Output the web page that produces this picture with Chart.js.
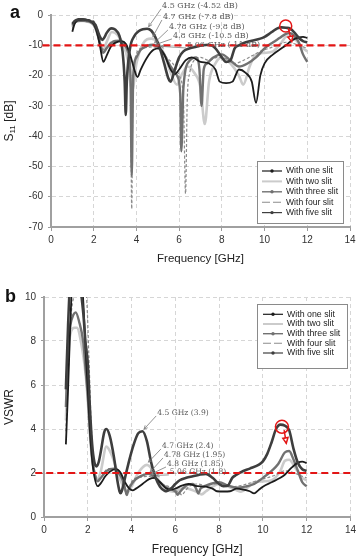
<!DOCTYPE html>
<html><head><meta charset="utf-8">
<script src="https://cdn.jsdelivr.net/npm/chart.js@4.4.1/dist/chart.umd.min.js"></script>
<style>
html,body{margin:0;padding:0;background:#fff;width:359px;height:558px;overflow:hidden}
.box{position:absolute;left:0;width:359px;height:279px}
#wa{top:0}#wb{top:279px}
canvas{display:block}
</style></head><body>
<div class="box" id="wa"><canvas id="ca" width="359" height="279"></canvas></div>
<div class="box" id="wb"><canvas id="cb" width="359" height="279"></canvas></div>
<script>
// ---------------- DATA ----------------
const seriesNames = ['With one slit','With two slit','With three slit','With four slit','With five slit'];
const xTicks = [0,2,4,6,8,10,12,14];
const s11Ticks = [0,-10,-20,-30,-40,-50,-60,-70];
const vswrTicks = [0,2,4,6,8,10];
const thresholdS11 = -10;
const thresholdVswr = 2;

const freqOne = [1.0,1.1,1.2,1.3,1.5,1.7,1.8,1.9,2.0,2.1,2.2,2.3,2.45,2.6,2.8,3.0,3.3,3.5,3.7,3.9,4.05,4.2,4.5,4.8,5.06,5.3,5.6,5.8,6.0,6.3,6.6,7.0,7.4,7.7,7.9,8.2,8.5,8.8,9.1,9.4,9.6,9.8,10.0,10.4,10.8,11.0,11.3,11.6,11.8,12.0];
const s11One = [-5.5,-3.0,-2.0,-1.6,-1.5,-1.6,-1.8,-2.3,-3.0,-4.5,-7.0,-10.5,-15.5,-13.5,-10.5,-9.2,-8.6,-9.5,-13,-18,-20.5,-18,-14,-11.5,-11,-13,-18,-19.5,-18,-15,-14,-15.5,-16,-18,-22,-22.5,-22,-18,-19,-22,-29,-20,-16,-13,-11,-10,-8.3,-7.4,-7.2,-7.6];
const vswrOne = [3.3,5.8,8.7,10.9,11.6,10.9,9.7,7.6,5.8,3.9,2.6,1.85,1.4,1.54,1.85,2.06,2.18,2.01,1.58,1.29,1.21,1.29,1.5,1.72,1.78,1.58,1.29,1.24,1.29,1.43,1.5,1.4,1.38,1.29,1.17,1.16,1.17,1.29,1.25,1.17,1.07,1.22,1.38,1.58,1.78,1.92,2.23,2.47,2.52,2.45];

const freqTwo = [1.0,1.1,1.2,1.4,1.5,1.7,1.9,2.0,2.1,2.2,2.3,2.45,2.6,2.85,3.1,3.4,3.6,3.8,4.0,4.3,4.7,5.0,5.3,5.6,5.9,6.1,6.4,6.7,7.0,7.2,7.4,7.7,8.0,8.4,8.8,9.0,9.3,9.6,10.0,10.4,10.8,11.0,11.2,11.5,11.8,12.0];
const s11Two = [-4.0,-2.5,-2.1,-2.0,-2.0,-2.2,-2.7,-3.3,-4.8,-7.0,-9.5,-11.5,-9,-5.6,-6.5,-10,-15,-25,-16,-9.5,-7.8,-9,-13,-19,-23,-20,-17,-19,-24,-36,-22,-16,-14,-16,-20,-23,-17,-13,-12.5,-12,-9,-7.2,-7,-8.5,-11,-12];
const vswrTwo = [4.4,7.0,8.3,8.6,8.6,7.9,6.5,5.3,3.7,2.6,2.0,1.72,2.1,3.2,2.8,1.92,1.43,1.12,1.38,2.0,2.37,2.1,1.58,1.25,1.15,1.22,1.33,1.25,1.13,1.03,1.17,1.38,1.5,1.38,1.22,1.15,1.33,1.58,1.62,1.67,2.1,2.55,2.6,2.2,1.78,1.67];

const freqThree = [1.0,1.1,1.2,1.35,1.45,1.6,1.8,1.9,2.0,2.1,2.2,2.3,2.45,2.6,2.8,3.0,3.2,3.4,3.6,3.72,3.78,3.85,4.0,4.2,4.5,4.78,5.0,5.3,5.6,5.9,6.05,6.1,6.2,6.5,6.8,6.95,7.05,7.15,7.3,7.6,8.0,8.4,8.8,9.2,9.6,10.0,10.4,10.7,11.0,11.2,11.4,11.6,11.8,12.0];
const s11Three = [-3.5,-2.3,-2.0,-1.9,-1.88,-1.95,-2.2,-2.6,-3.2,-4.6,-6.8,-9.5,-12.5,-11,-9.3,-8.6,-8.5,-9.5,-12,-20,-53,-20,-14,-11.5,-10.2,-9.8,-10.5,-13,-17,-20,-26,-45,-24,-15,-14,-18,-30,-18,-16,-14,-13,-15,-17,-16,-14,-11,-9,-7.6,-6.2,-6.0,-7,-9,-13,-15.5];
const vswrThree = [5.0,7.6,8.7,9.2,9.3,8.9,7.9,6.7,5.5,3.9,2.7,2.03,1.62,1.78,2.04,2.18,2.2,2.01,1.67,1.22,1.0,1.22,1.5,1.72,1.89,1.96,1.85,1.58,1.33,1.22,1.1,1.01,1.13,1.43,1.5,1.29,1.07,1.29,1.38,1.5,1.58,1.43,1.33,1.38,1.5,1.78,2.1,2.41,2.93,3.0,2.61,2.1,1.58,1.4];

const freqFour = [1.0,1.1,1.2,1.4,1.6,1.8,1.95,2.05,2.15,2.25,2.35,2.5,2.65,2.8,3.0,3.3,3.5,3.65,3.72,3.78,3.84,3.95,4.1,4.4,4.8,5.1,5.4,5.7,6.0,6.2,6.3,6.38,6.5,6.7,7.0,7.4,7.8,8.2,8.6,9.0,9.4,9.8,10.2,10.6,11.0,11.4,11.8,12.0];
const s11Four = [-4.5,-2.8,-2.0,-1.7,-1.6,-1.65,-1.75,-2.4,-4,-7,-10,-11.5,-10.5,-9,-8.5,-8.8,-9.5,-13,-22,-64,-22,-14,-11.5,-10.8,-10.5,-11.5,-14,-16,-20,-28,-59,-28,-19,-15,-14,-15,-14,-14.5,-16,-15,-13.5,-12,-11,-10,-9,-9.5,-10.5,-11];
const vswrFour = [3.9,6.3,8.7,10.2,10.9,10.5,9.9,7.3,4.4,2.6,1.92,1.72,1.85,2.1,2.2,2.14,2.01,1.58,1.17,1.0,1.17,1.5,1.72,1.81,1.85,1.72,1.5,1.38,1.22,1.08,1.0,1.08,1.25,1.43,1.5,1.43,1.5,1.47,1.38,1.43,1.54,1.67,1.78,1.92,2.1,2.01,1.85,1.78];

const freqFive = [1.0,1.1,1.2,1.3,1.5,1.6,1.7,1.8,1.9,2.0,2.1,2.2,2.3,2.4,2.5,2.6,2.75,2.85,3.0,3.2,3.35,3.45,3.5,3.55,3.7,3.9,4.1,4.3,4.5,4.7,4.9,5.1,5.3,5.5,5.6,5.8,6.0,6.2,6.5,6.8,7.1,7.4,7.7,8.0,8.2,8.4,8.6,8.8,9.0,9.4,9.8,10.0,10.2,10.4,10.6,10.8,11.0,11.2,11.4,11.6,11.8,12.0];
const s11Five = [-3.0,-2.0,-1.6,-1.45,-1.4,-1.5,-1.7,-1.9,-2.2,-2.5,-3.6,-5.5,-7.3,-8.2,-7.4,-6.0,-4.6,-4.4,-4.8,-6.8,-12,-22,-33,-22,-11,-7.0,-5.4,-4.7,-4.52,-5.2,-7.5,-11,-16,-21,-22,-18,-14,-12,-11,-10.5,-10,-9.8,-11,-14,-15.5,-15,-11,-10,-9.3,-8.5,-7.8,-7.2,-6.3,-5.3,-4.4,-4.1,-4.2,-4.5,-5.8,-7.5,-8.6,-9.0];
const vswrFive = [5.8,8.7,10.9,12.0,12.4,11.6,10.2,9.2,7.9,7.0,4.9,3.3,2.5,2.3,2.5,3.0,3.85,4.0,3.7,2.7,1.67,1.17,1.08,1.17,1.78,2.6,3.3,3.8,3.9,3.45,2.46,1.78,1.38,1.2,1.17,1.29,1.5,1.67,1.78,1.85,1.92,1.96,1.78,1.5,1.4,1.43,1.78,1.92,2.04,2.2,2.37,2.53,2.87,3.4,4.0,4.2,4.15,3.95,3.1,2.46,2.17,2.1];

// annotated resonances
const annoFreq = [4.5, 4.7, 4.78, 4.8, 5.06];
const annoS11 = [-4.52, -7.8, -9.8, -10.5, -11];
const annoVswr = [3.9, 2.4, 1.95, 1.85, 1.8];
// highlighted point (red circle)
const markS11 = {f: 10.99, v: -3.63};
const markVswr = {f: 10.87, v: 4.1};

// ---------------- STYLE ----------------
const styles = [
  {color:'#1c1c1c', width:1.8, dash:[], marker:true, order:2, lw:1.2},
  {color:'#cbcbcb', width:2.6, dash:[], marker:false, order:5, lw:2},
  {color:'#717171', width:2.4, dash:[], marker:true, order:3, lw:1.4},
  {color:'#8c8c8c', width:1.2, dash:[3,2], marker:false, order:4, lw:1.1, ldash:[8,3]},
  {color:'#3e3e3e', width:2.6, dash:[], marker:true, order:1, lw:1.2},
];
const freqs = [freqOne, freqTwo, freqThree, freqFour, freqFive];
const s11Sets = [s11One, s11Two, s11Three, s11Four, s11Five];
const vswrSets = [vswrOne, vswrTwo, vswrThree, vswrFour, vswrFive];

function pts(fs, vs){ return fs.map((f,i)=>({x:f, y:vs[i]})); }
function makeDatasets(sets, thr){
  const ds = sets.map((vals,i)=>({
    label: seriesNames[i], data: pts(freqs[i], vals),
    borderColor: styles[i].color, borderWidth: styles[i].width, borderDash: styles[i].dash,
    pointRadius: 0, fill: false, cubicInterpolationMode: 'monotone', tension: 0.4, order: styles[i].order
  }));
  ds.push({label:'thr', data:[{x:-0.4,y:thr},{x:14,y:thr}], borderColor:'#e31515', borderWidth:2.2,
    borderDash:[7,4], pointRadius:0, fill:false, tension:0, order:0, clip:false});
  return ds;
}

const FONT = '"Liberation Sans", Arial, sans-serif';
function axisCfg(min, max, step, size, afterFit, ticksList, title, titleSize, titlePad){
  const c = {
    type:'linear', min, max,
    afterBuildTicks(s){ s.ticks = ticksList.map(v=>({value:v})); },
    ticks:{stepSize:step, font:{size:10, family:FONT}, color:'#333', padding: title? 3 : 5, maxRotation:0, autoSkip:false},
    grid:{color:'#d6d6d6', lineWidth:1, tickLength: title? 4 : 3, tickColor:'#9a9a9a', tickWidth:1, drawTicks:true},
    border:{display:true, color:'#a0a0a0', width:2, dash:[4,3]},
    afterFit
  };
  if (title) c.title = {display:true, text:title, font:{size:titleSize, family:FONT}, color:'#222', padding:{top:0, bottom:titlePad}};
  return c;
}

function arrow(ctx, x1,y1,x2,y2, head, color, lw, closed){
  const a = Math.atan2(y2-y1, x2-x1);
  ctx.save();
  ctx.strokeStyle = color; ctx.lineWidth = lw; ctx.setLineDash([]);
  ctx.beginPath(); ctx.moveTo(x1,y1); ctx.lineTo(x2,y2); ctx.stroke();
  const hx1 = x2 - head*Math.cos(a-0.45), hy1 = y2 - head*Math.sin(a-0.45);
  const hx2 = x2 - head*Math.cos(a+0.45), hy2 = y2 - head*Math.sin(a+0.45);
  ctx.beginPath(); ctx.moveTo(hx1,hy1); ctx.lineTo(x2,y2); ctx.lineTo(hx2,hy2);
  if (closed){ ctx.closePath(); ctx.fillStyle='#fff'; ctx.fill(); }
  ctx.stroke();
  ctx.restore();
}

function makeDecor(cfg){
  return {
    id:'decor'+cfg.letter,
    afterDatasetsDraw(chart){
      const ctx = chart.ctx, xs = chart.scales.x, ys = chart.scales.y;
      const X = v=>xs.getPixelForValue(v), Y = v=>ys.getPixelForValue(v);
      ctx.save();
      // annotations
      ctx.font = cfg.annoFont + 'px "DejaVu Serif", "Liberation Serif", serif';
      ctx.textBaseline = 'middle'; ctx.textAlign = 'left';
      for (let i=0;i<annoFreq.length;i++){
        const tx = X(cfg.textPos[i][0]), ty = Y(cfg.textPos[i][1]);
        const px = X(annoFreq[i]), py = Y(cfg.annoVals[i]);
        arrow(ctx, tx-1, ty+3, px+1.5, py-2, 4, '#7a7a7a', 0.8, false);
        ctx.fillStyle = '#5a5a5a';
        ctx.fillText(cfg.annoText(i), tx, ty);
      }
      // red mark
      const cx = X(cfg.mark.f), cy = Y(cfg.mark.v);
      ctx.strokeStyle = '#e31515'; ctx.lineWidth = 1.5; ctx.setLineDash([]);
      ctx.beginPath(); ctx.arc(cx, cy, cfg.markR, 0, Math.PI*2); ctx.stroke();
      arrow(ctx, X(cfg.arrowFrom[0]), Y(cfg.arrowFrom[1]), X(cfg.arrowTo[0]), Y(cfg.arrowTo[1]), 6, '#e31515', 1.5, true);
      // legend
      const b = cfg.legend;
      ctx.fillStyle = '#fff'; ctx.fillRect(b.x, b.y, b.w, b.h);
      ctx.strokeStyle = '#8a8a8a'; ctx.lineWidth = 1; ctx.strokeRect(b.x+0.5, b.y+0.5, b.w, b.h);
      for (let i=0;i<5;i++){
        const st = styles[i], yy = b.rows[i];
        ctx.strokeStyle = st.color; ctx.lineWidth = st.lw; ctx.setLineDash(st.ldash || []);
        ctx.beginPath(); ctx.moveTo(b.s1, yy); ctx.lineTo(b.s2, yy); ctx.stroke();
        ctx.setLineDash([]);
        if (st.marker){ ctx.fillStyle = st.color; ctx.beginPath(); ctx.arc((b.s1+b.s2)/2, yy, 1.7, 0, Math.PI*2); ctx.fill(); }
        ctx.fillStyle = '#222'; ctx.font = b.fs + 'px ' + FONT; ctx.textBaseline = 'middle';
        ctx.fillText(seriesNames[i], b.tx, yy);
      }
      // panel letter
      ctx.fillStyle = '#111'; ctx.font = 'bold 18px ' + FONT; ctx.textBaseline = 'middle'; ctx.textAlign = 'left';
      ctx.fillText(cfg.letter, cfg.letterX, cfg.letterY);
      // y title
      const area = chart.chartArea;
      ctx.translate(cfg.yTitleX, (area.top + area.bottom)/2);
      ctx.rotate(-Math.PI/2);
      let w = 0;
      cfg.yTitle.forEach(p=>{ ctx.font = p.size + 'px ' + FONT; w += ctx.measureText(p.t).width; });
      let x0 = -w/2;
      ctx.fillStyle = '#222'; ctx.textBaseline = 'middle';
      cfg.yTitle.forEach(p=>{ ctx.font = p.size + 'px ' + FONT; ctx.fillText(p.t, x0, p.dy||0); x0 += ctx.measureText(p.t).width; });
      ctx.restore();
    }
  };
}

const commonPlugins = {legend:{display:false}, tooltip:{enabled:false}};

new Chart(document.getElementById('ca'), {
  type:'line',
  data:{datasets: makeDatasets(s11Sets, thresholdS11)},
  options:{
    responsive:false, animation:false, devicePixelRatio:1,
    layout:{padding:{top:15, right:9, left:0, bottom:0}},
    plugins: commonPlugins,
    scales:{
      x: axisCfg(0,14,2,10, s=>{s.height=52;}, xTicks, 'Frequency [GHz]', 11.5, 13.5),
      y: axisCfg(-70,0,10,10, s=>{s.width=51;}, s11Ticks)
    }
  },
  plugins:[makeDecor({
    letter:'a', letterX:10, letterY:13, yTitleX:10,
    yTitle:[{t:'S',size:12},{t:'11',size:8,dy:3},{t:' [dB]',size:12}],
    annoVals: annoS11, annoFont: 8,
    annoText: i=> annoFreq[i] + ' GHz (' + annoS11[i] + ' dB)',
    textPos: [[5.2,3.0],[5.24,-0.66],[5.52,-3.96],[5.71,-6.9],[6.37,-9.9]],
    mark: markS11, markR: 6, arrowFrom:[11.11,-4.39], arrowTo:[11.27,-8.8],
    legend:{x:257, y:161, w:86, h:62, rows:[171,181.4,191.8,202.2,212.6], s1:262, s2:282, tx:286, fs:8.6}
  })]
});

new Chart(document.getElementById('cb'), {
  type:'line',
  data:{datasets: makeDatasets(vswrSets, thresholdVswr)},
  options:{
    responsive:false, animation:false, devicePixelRatio:1,
    layout:{padding:{top:18, right:6, left:0, bottom:0}},
    plugins: commonPlugins,
    scales:{
      x: axisCfg(0,14,2,10, s=>{s.height=41;}, xTicks, 'Frequency [GHz]', 12, 1),
      y: axisCfg(0,10,2,10, s=>{s.width=44;}, vswrTicks)
    }
  },
  plugins:[makeDecor({
    letter:'b', letterX:5, letterY:18, yTitleX:10,
    yTitle:[{t:'VSWR',size:12}],
    annoVals: annoVswr, annoFont: 7.6,
    annoText: i=> annoFreq[i] + ' GHz (' + annoVswr[i] + ')',
    textPos: [[5.17,4.73],[5.39,3.23],[5.48,2.82],[5.62,2.41],[5.75,2.05]],
    mark: markVswr, markR: 6.5, arrowFrom:[10.97,3.95], arrowTo:[11.07,3.35],
    legend:{x:257, y:25, w:90, h:64, rows:[35.3,45,54.7,64.3,74], s1:263, s2:283, tx:287, fs:8.8}
  })]
});
</script>
</body></html>
